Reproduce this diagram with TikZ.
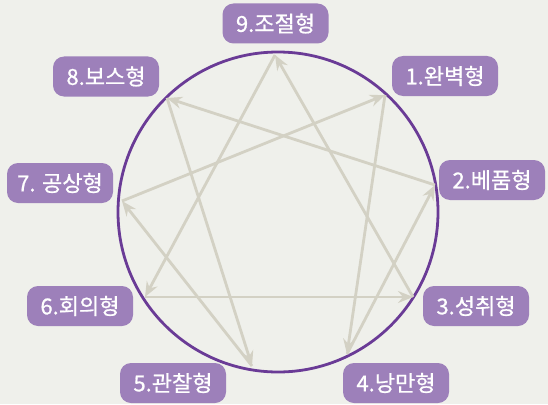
\documentclass[tikz,border=0pt]{standalone}
\usepackage{fontspec}
\setmainfont{Noto Sans CJK KR}
\newfontfamily\labelfont[FakeBold=0.8]{Noto Sans CJK KR}
\usetikzlibrary{arrows.meta}
\definecolor{bgc}{HTML}{EFF0EB}
\definecolor{boxc}{HTML}{9D80BA}
\definecolor{ringc}{HTML}{6A3B96}
\definecolor{linec}{HTML}{D3D1C4}
\begin{document}
\begin{tikzpicture}[
        x=1pt, y=-1pt,
        line join=round,
        % 스타일
        ring/.style={draw=ringc, line width=2.8pt},
        path/.style={draw=linec, line width=2.8pt, -{Stealth[length=15pt,width=12pt,inset=5pt]}},
        type/.style={fill=boxc, text=white, rounded corners=11pt, minimum width=106pt,
            minimum height=40pt, inner sep=0pt, font=\labelfont\fontsize{22}{24}\selectfont},
    ]

    % 배경
    \fill[bgc] (0,0) rectangle (548,404);
    \useasboundingbox (0,0) rectangle (548,404);

    % 원
    \coordinate (O) at (278,212);
    \draw[ring] (O) circle (160);

    % 꼭짓점
    \coordinate (P9) at (275,55);
    \coordinate (P1) at (385,95);
    \coordinate (P2) at (435,185);
    \coordinate (P3) at (413,297);
    \coordinate (P4) at (347,354);
    \coordinate (P5) at (252,366);
    \coordinate (P6) at (145,297);
    \coordinate (P7) at (122,201);
    \coordinate (P8) at (167,98);

    % 삼각형 9-6-3
    \draw[path] (P9) -- (P6);
    \draw[path] (P6) -- (P3);
    \draw[path] (P3) -- (P9);

    % 1-4-2-8-5-7
    \draw[path] (P1) -- (P4);
    \draw[path] (P4) -- (P2);
    \draw[path] (P2) -- (P8);
    \draw[path] (P8) -- (P5);
    \draw[path] (P5) -- (P7);
    \draw[path] (P7) -- (P1);

    % 유형 이름
    \node[type] (T9) at (275.5,23.5) {9.조절형};
    \node[type] (T1) at (445,76) {1.완벽형};
    \node[type] (T2) at (492,180) {2.베품형};
    \node[type] (T3) at (476,306) {3.성취형};
    \node[type] (T4) at (396,383) {4.낭만형};
    \node[type] (T5) at (173,383) {5.관찰형};
    \node[type] (T6) at (80,306) {6.회의형};
    \node[type] (T7) at (60,183) {7. 공상형};
    \node[type] (T8) at (106,76.5) {8.보스형};
\end{tikzpicture}
\end{document}
